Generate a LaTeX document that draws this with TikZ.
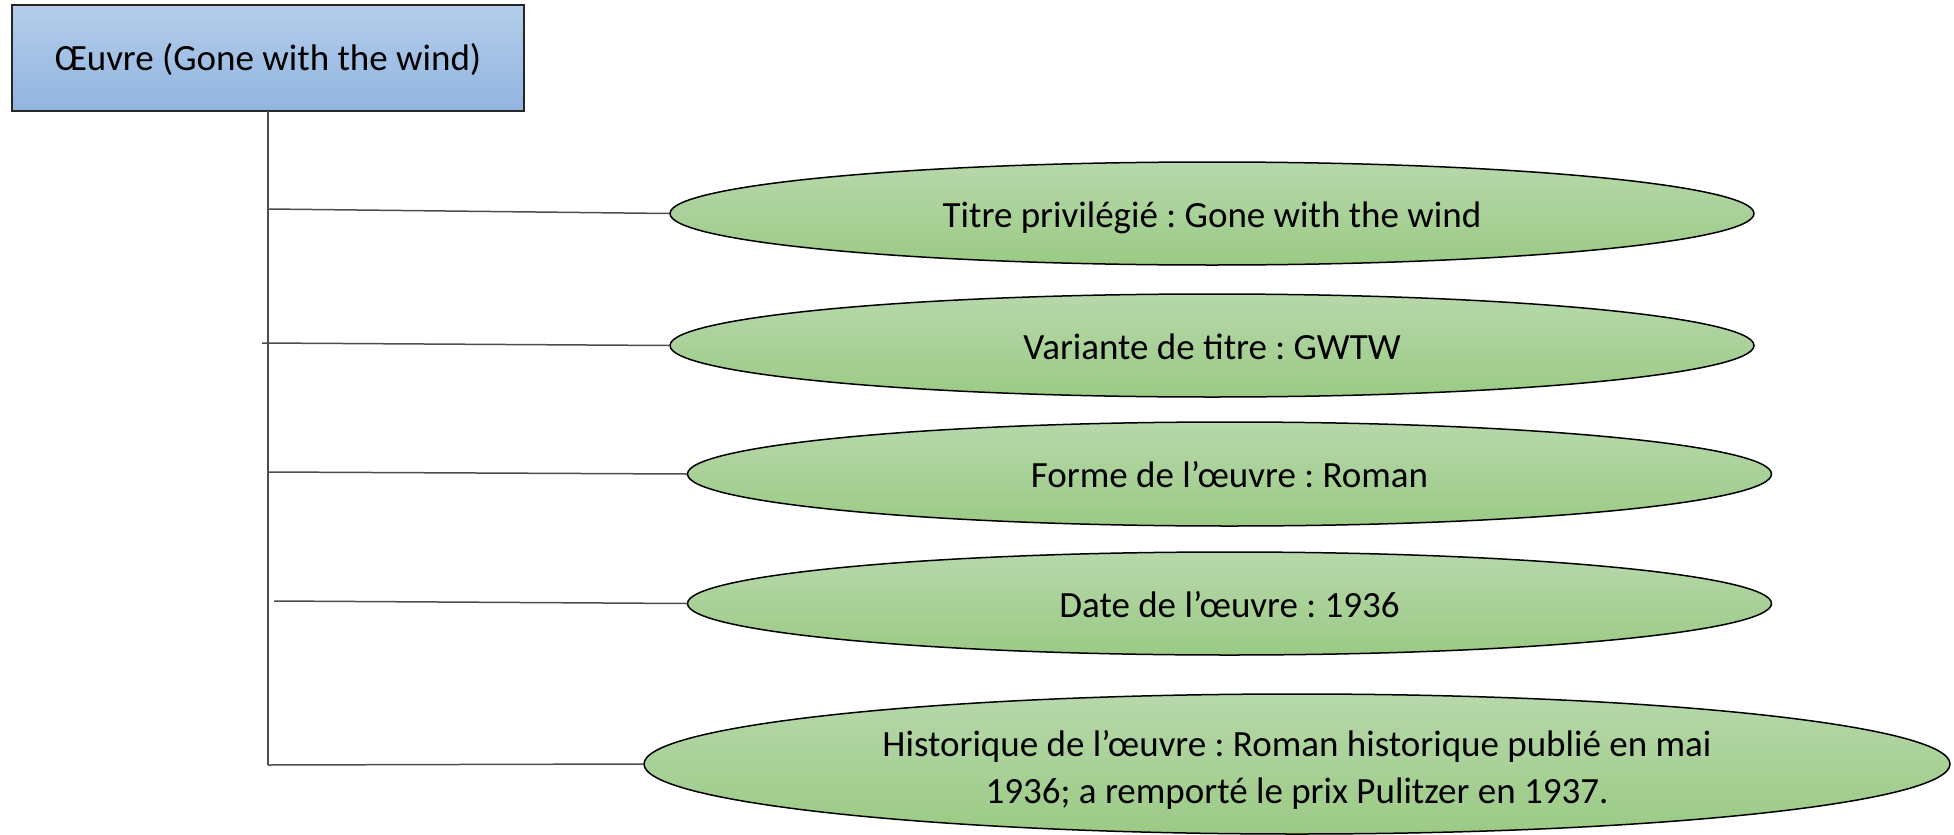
\documentclass[tikz,border=0pt]{standalone}
\usepackage{fontspec}
\setmainfont{Carlito}
\frenchspacing
\usetikzlibrary{shapes.geometric}
\definecolor{boxtop}{HTML}{B4CDEA}
\definecolor{boxbot}{HTML}{91B4E0}
\definecolor{elltop}{HTML}{B7D8AB}
\definecolor{ellbot}{HTML}{9BCA85}
\definecolor{linegray}{HTML}{4D4D4D}
\tikzset{
  rootbox/.style={draw=black!85, line width=1.3pt, top color=boxtop, bottom color=boxbot,
    minimum width=512pt, minimum height=106pt, inner sep=0pt,
    text height=25pt, text depth=0pt,
    font=\fontsize{37}{47}\selectfont},
  attr/.style={ellipse, draw=black, line width=1.5pt, top color=elltop, bottom color=ellbot,
    inner sep=0pt, align=flush center, font=\fontsize{37}{47}\selectfont},
  oneline/.style={text height=27pt, text depth=0pt},
  conn/.style={draw=linegray, line width=1.5pt}
}
\begin{document}
\begin{tikzpicture}[x=1pt,y=-1pt]
\useasboundingbox (0,0) rectangle (1954,835);
\node[rootbox] (root) at (268,58) {Œuvre (Gone with the wind)};
\node[attr, oneline, minimum width=1084pt, minimum height=103pt] (e1) at (1212,213.5) {Titre privilégié : Gone with the wind};
\node[attr, oneline, minimum width=1084pt, minimum height=103pt] (e2) at (1212,345.5) {Variante de titre : GWTW};
\node[attr, oneline, minimum width=1084pt, minimum height=104pt] (e3) at (1229.5,474) {Forme de l’œuvre : Roman};
\node[attr, oneline, minimum width=1084pt, minimum height=103pt] (e4) at (1229.5,603.5) {Date de l’œuvre : 1936};
\node[attr, text width=900pt, text height=0pt, text depth=15pt, minimum width=1306pt, minimum height=140pt] (e5) at (1297,764) {Historique de l’œuvre : Roman historique publié en mai\\1936; a remporté le prix Pulitzer en 1937.};
\coordinate (ttop) at (268,111);
\coordinate (tbot) at (268,765);
\coordinate (t1) at (268,209);
\coordinate (t2) at (262,343);
\coordinate (t3) at (268,472);
\coordinate (t4) at (274,601);
\draw[conn] (ttop) -- (tbot);
\draw[conn] (t1) -- (e1.west);
\draw[conn] (t2) -- (e2.west);
\draw[conn] (t3) -- (e3.west);
\draw[conn] (t4) -- (e4.west);
\draw[conn] (tbot) -- (e5.west);
\end{tikzpicture}
\end{document}
